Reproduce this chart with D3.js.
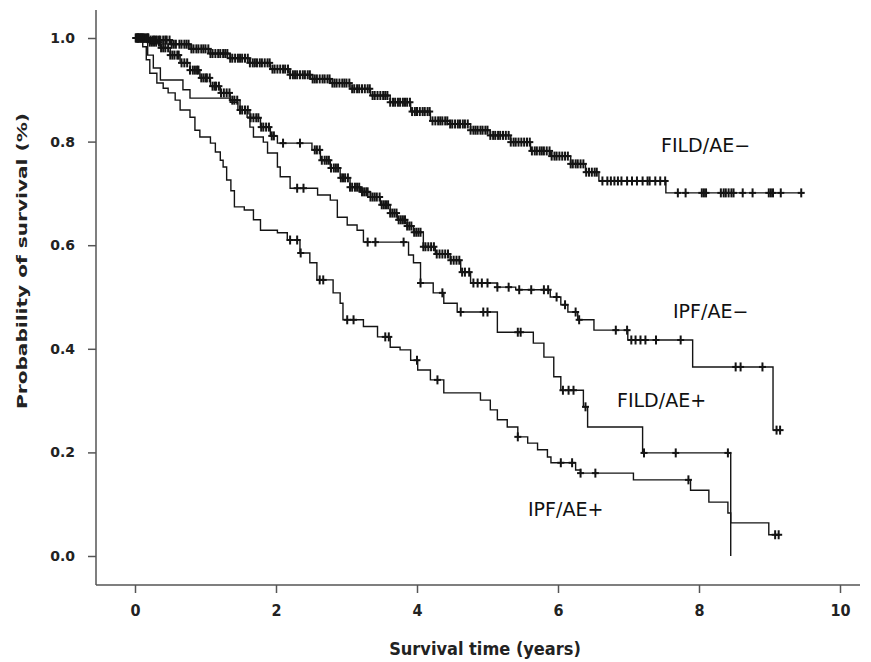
<!DOCTYPE html>
<html>
<head>
<meta charset="utf-8">
<script src="https://cdn.jsdelivr.net/npm/d3@7"></script>
<style>
  body { margin: 0; background: #fff; }
  svg { display: block; }
</style>
</head>
<body>
<script>
// Kaplan-Meier survival curves, four groups
// step times (years) and survival after each step

const fildNegT = [0, 0.21, 0.5, 0.78, 1.07, 1.35, 1.63, 1.92, 2.2, 2.49, 2.77, 3.05, 3.34, 3.62, 3.91, 4.19, 4.47, 4.76, 5.04, 5.33, 5.61, 5.89, 6.18, 6.39, 6.58, 7.53, 9.49];
const fildNegS = [1.0, 0.996, 0.988, 0.979, 0.970, 0.961, 0.952, 0.940, 0.929, 0.921, 0.913, 0.902, 0.889, 0.876, 0.858, 0.840, 0.834, 0.822, 0.812, 0.799, 0.782, 0.772, 0.757, 0.741, 0.724, 0.701, 0.701];
const fildNegCensor = [0.01, 0.02, 0.04, 0.05, 0.07, 0.08, 0.1, 0.12, 0.13, 0.16, 0.18, 0.19, 0.22, 0.25, 0.27, 0.29, 0.31, 0.34, 0.36, 0.4, 0.43, 0.45, 0.49, 0.52, 0.55, 0.58, 0.63, 0.66, 0.7, 0.73, 0.76, 0.8, 0.83, 0.87, 0.9, 0.94, 0.97, 1.0, 1.04, 1.07, 1.1, 1.14, 1.18, 1.21, 1.25, 1.28, 1.31, 1.35, 1.38, 1.42, 1.46, 1.49, 1.52, 1.56, 1.6, 1.63, 1.67, 1.7, 1.73, 1.77, 1.8, 1.84, 1.88, 1.91, 1.95, 1.98, 2.02, 2.06, 2.1, 2.13, 2.17, 2.2, 2.24, 2.27, 2.3, 2.34, 2.38, 2.41, 2.45, 2.48, 2.52, 2.55, 2.58, 2.62, 2.66, 2.69, 2.73, 2.76, 2.8, 2.83, 2.86, 2.9, 2.94, 2.97, 3.0, 3.04, 3.08, 3.11, 3.15, 3.18, 3.22, 3.26, 3.3, 3.33, 3.37, 3.4, 3.44, 3.48, 3.52, 3.55, 3.58, 3.62, 3.66, 3.69, 3.73, 3.76, 3.8, 3.83, 3.86, 3.9, 3.93, 3.97, 4.0, 4.04, 4.08, 4.11, 4.15, 4.18, 4.22, 4.26, 4.3, 4.33, 4.36, 4.4, 4.43, 4.47, 4.5, 4.54, 4.58, 4.61, 4.65, 4.68, 4.72, 4.76, 4.8, 4.83, 4.86, 4.9, 4.93, 4.97, 5.0, 5.04, 5.08, 5.11, 5.15, 5.18, 5.22, 5.26, 5.3, 5.33, 5.37, 5.4, 5.44, 5.48, 5.52, 5.56, 5.6, 5.63, 5.67, 5.7, 5.74, 5.77, 5.8, 5.84, 5.88, 5.91, 5.95, 5.98, 6.02, 6.06, 6.1, 6.14, 6.18, 6.21, 6.25, 6.28, 6.32, 6.36, 6.4, 6.44, 6.48, 6.52, 6.55, 6.63, 6.7, 6.75, 6.8, 6.85, 6.9, 6.98, 7.05, 7.12, 7.2, 7.27, 7.3, 7.38, 7.45, 7.52, 7.7, 7.81, 8.04, 8.07, 8.1, 8.31, 8.35, 8.38, 8.42, 8.46, 8.49, 8.62, 8.76, 8.99, 9.02, 9.05, 9.16, 9.45];

const ipfNegT = [0, 0.21, 0.36, 0.5, 0.64, 0.78, 0.92, 1.07, 1.21, 1.35, 1.49, 1.63, 1.78, 1.92, 2.02, 2.51, 2.63, 2.77, 2.91, 3.05, 3.2, 3.34, 3.48, 3.62, 3.72, 3.86, 3.95, 4.09, 4.26, 4.47, 4.62, 4.76, 5.14, 5.4, 5.89, 6.04, 6.14, 6.28, 6.51, 6.99, 7.91, 9.05, 9.15];
const ipfNegS = [1.0, 0.992, 0.981, 0.967, 0.952, 0.938, 0.923, 0.907, 0.894, 0.880, 0.861, 0.846, 0.828, 0.811, 0.797, 0.784, 0.764, 0.749, 0.730, 0.712, 0.703, 0.693, 0.678, 0.662, 0.649, 0.637, 0.625, 0.597, 0.583, 0.571, 0.548, 0.527, 0.519, 0.514, 0.500, 0.485, 0.471, 0.456, 0.436, 0.417, 0.365, 0.243, 0.243];
const ipfNegCensor = [0.02, 0.04, 0.07, 0.1, 0.12, 0.15, 0.18, 0.21, 0.24, 0.27, 0.3, 0.34, 0.37, 0.4, 0.43, 0.47, 0.5, 0.53, 0.56, 0.6, 0.62, 0.66, 0.7, 0.74, 0.78, 0.82, 0.85, 0.88, 0.9, 0.94, 0.97, 1.0, 1.02, 1.06, 1.1, 1.13, 1.15, 1.19, 1.22, 1.26, 1.3, 1.34, 1.38, 1.41, 1.45, 1.49, 1.52, 1.56, 1.6, 1.64, 1.68, 1.72, 1.75, 1.79, 1.82, 1.86, 1.9, 1.94, 1.97, 2.1, 2.34, 2.55, 2.58, 2.62, 2.65, 2.69, 2.72, 2.75, 2.78, 2.82, 2.85, 2.88, 2.92, 2.95, 2.98, 3.02, 3.05, 3.08, 3.12, 3.15, 3.18, 3.22, 3.25, 3.28, 3.3, 3.34, 3.37, 3.4, 3.43, 3.47, 3.5, 3.53, 3.56, 3.59, 3.62, 3.65, 3.68, 3.71, 3.74, 3.77, 3.8, 3.83, 3.86, 3.89, 3.92, 3.96, 3.99, 4.02, 4.05, 4.09, 4.12, 4.16, 4.2, 4.24, 4.28, 4.32, 4.36, 4.4, 4.44, 4.48, 4.52, 4.56, 4.6, 4.64, 4.68, 4.74, 4.8, 4.86, 4.92, 5.0, 5.14, 5.3, 5.45, 5.62, 5.8, 5.86, 5.98, 6.1, 6.25, 6.3, 6.82, 6.98, 7.04, 7.1, 7.17, 7.24, 7.39, 7.74, 8.52, 8.59, 8.9, 9.1, 9.15];

const fildPosT = [0, 0.11, 0.18, 0.26, 0.36, 0.68, 0.78, 1.35, 1.46, 1.59, 1.63, 1.68, 1.82, 1.88, 2.02, 2.06, 2.2, 2.59, 2.77, 2.87, 3.01, 3.15, 3.24, 3.88, 3.95, 4.05, 4.23, 4.38, 4.57, 5.14, 5.65, 5.8, 5.94, 6.04, 6.36, 6.42, 7.2, 8.45];
const fildPosS = [1.0, 0.992, 0.967, 0.942, 0.919, 0.900, 0.884, 0.876, 0.861, 0.847, 0.828, 0.809, 0.799, 0.778, 0.751, 0.732, 0.710, 0.697, 0.687, 0.654, 0.639, 0.629, 0.606, 0.581, 0.566, 0.527, 0.508, 0.488, 0.471, 0.432, 0.411, 0.384, 0.346, 0.320, 0.288, 0.249, 0.199, 0.0];
const fildPosCensor = [0.05, 0.09, 2.3, 2.39, 3.3, 3.41, 3.81, 4.05, 4.36, 4.62, 4.94, 5.0, 5.43, 5.47, 6.07, 6.15, 6.22, 6.39, 7.22, 7.67, 8.41];

const ipfPosT = [0, 0.11, 0.16, 0.21, 0.31, 0.4, 0.47, 0.57, 0.64, 0.78, 0.85, 0.92, 1.07, 1.14, 1.21, 1.25, 1.3, 1.36, 1.41, 1.55, 1.68, 1.78, 2.02, 2.16, 2.34, 2.48, 2.58, 2.81, 2.91, 2.95, 3.24, 3.44, 3.62, 3.76, 3.91, 4.01, 4.19, 4.38, 4.9, 5.04, 5.14, 5.28, 5.43, 5.57, 5.71, 5.85, 5.9, 6.25, 6.32, 7.07, 7.88, 8.14, 8.41, 8.45, 8.99, 9.15];
const ipfPosS = [1.0, 0.983, 0.958, 0.932, 0.913, 0.903, 0.894, 0.880, 0.861, 0.847, 0.822, 0.809, 0.797, 0.780, 0.764, 0.751, 0.726, 0.705, 0.674, 0.668, 0.649, 0.629, 0.624, 0.610, 0.585, 0.566, 0.533, 0.508, 0.488, 0.456, 0.443, 0.423, 0.403, 0.398, 0.378, 0.359, 0.340, 0.315, 0.301, 0.282, 0.263, 0.249, 0.230, 0.218, 0.205, 0.191, 0.180, 0.166, 0.160, 0.147, 0.127, 0.104, 0.083, 0.064, 0.041, 0.041];
const ipfPosCensor = [0.04, 2.2, 2.3, 2.35, 2.62, 2.67, 3.01, 3.1, 3.55, 3.6, 4.0, 4.29, 5.43, 6.04, 6.2, 6.32, 6.53, 7.85, 9.08, 9.13];

const groupNames = ["FILD/AE\u2212", "IPF/AE\u2212", "FILD/AE+", "IPF/AE+"];
const xTicks = [0, 2, 4, 6, 8, 10];
const yTicks = [0.0, 0.2, 0.4, 0.6, 0.8, 1.0];

const groups = [
  { name: groupNames[0], t: fildNegT, s: fildNegS, censor: fildNegCensor, label: [661, 152] },
  { name: groupNames[1], t: ipfNegT, s: ipfNegS, censor: ipfNegCensor, label: [673, 318] },
  { name: groupNames[2], t: fildPosT, s: fildPosS, censor: fildPosCensor, label: [617, 407] },
  { name: groupNames[3], t: ipfPosT, s: ipfPosS, censor: ipfPosCensor, label: [528, 516] },
];

const width = 871;
const height = 662;

const svg = d3
  .select("body")
  .append("svg")
  .attr("width", width)
  .attr("height", height);

// Scales
const x = d3.scaleLinear().domain([0, 10]).range([135, 840]);
const y = d3.scaleLinear().domain([0, 1]).range([556, 38]);

const axisColor = "#555";
const inkColor = "#141414";

// Axis lines (they run past the tick range)
svg.append("line")
  .attr("x1", 96).attr("x2", 96)
  .attr("y1", 10).attr("y2", 585)
  .attr("stroke", axisColor).attr("stroke-width", 1.5);
svg.append("line")
  .attr("x1", 96).attr("x2", 860)
  .attr("y1", 585).attr("y2", 585)
  .attr("stroke", axisColor).attr("stroke-width", 1.5);

// Y axis
const yAxis = svg
  .append("g")
  .attr("transform", "translate(96,0)")
  .call(d3.axisLeft(y).tickValues(yTicks).tickFormat(d3.format(".1f")).tickSize(8).tickPadding(13));
yAxis.select(".domain").remove();
yAxis.selectAll("line").attr("stroke", axisColor).attr("stroke-width", 1.5);
yAxis.selectAll("text")
  .attr("fill", "#222")
  .style("font-family", "'DejaVu Sans', sans-serif")
  .style("font-weight", "bold")
  .style("font-size", "14px");

// X axis
const xAxis = svg
  .append("g")
  .attr("transform", "translate(0,585)")
  .call(d3.axisBottom(x).tickValues(xTicks).tickFormat(d3.format("d")).tickSize(8).tickPadding(12));
xAxis.select(".domain").remove();
xAxis.selectAll("line").attr("stroke", axisColor).attr("stroke-width", 1.5);
xAxis.selectAll("text")
  .attr("fill", "#222")
  .style("font-family", "'DejaVu Sans Condensed', 'DejaVu Sans', sans-serif")
  .style("font-weight", "bold")
  .style("font-size", "16px");

// Axis titles
svg.append("text")
  .attr("x", 485)
  .attr("y", 655)
  .attr("text-anchor", "middle")
  .attr("fill", "#222")
  .style("font-family", "'DejaVu Sans Condensed', 'DejaVu Sans', sans-serif")
  .style("font-weight", "bold")
  .style("font-size", "18px")
  .text("Survival time (years)");

svg.append("text")
  .attr("transform", "translate(27,261) rotate(-90)")
  .attr("text-anchor", "middle")
  .attr("fill", "#222")
  .attr("textLength", 296)
  .attr("lengthAdjust", "spacingAndGlyphs")
  .style("font-family", "'DejaVu Sans Condensed', 'DejaVu Sans', sans-serif")
  .style("font-weight", "bold")
  .style("font-size", "14px")
  .text("Probability of survival (%)");

// Step line generator
const stepLine = d3
  .line()
  .x((d) => x(d[0]))
  .y((d) => y(d[1]))
  .curve(d3.curveStepAfter);

// survival value at time c (last step at or before c)
function survivalAt(g, c) {
  const i = d3.bisectRight(g.t, c) - 1;
  return g.s[Math.max(0, i)];
}

groups.forEach((g) => {
  const pts = g.t.map((t, i) => [t, g.s[i]]);

  svg.append("path")
    .attr("d", stepLine(pts))
    .attr("fill", "none")
    .attr("stroke", inkColor)
    .attr("stroke-width", 1.4);

  // censor marks
  const marks = svg.append("g")
    .selectAll("g")
    .data(g.censor)
    .enter()
    .append("g")
    .attr("transform", (c) => `translate(${x(c)},${y(survivalAt(g, c))})`);
  marks.append("line")
    .attr("x1", 0).attr("x2", 0)
    .attr("y1", -4.5).attr("y2", 4.5)
    .attr("stroke", inkColor).attr("stroke-width", 2);
  marks.append("line")
    .attr("x1", -3.5).attr("x2", 3.5)
    .attr("y1", 0).attr("y2", 0)
    .attr("stroke", inkColor).attr("stroke-width", 2);

  // group label
  svg.append("text")
    .attr("x", g.label[0])
    .attr("y", g.label[1])
    .attr("fill", "#111")
    .style("font-family", "'DejaVu Sans', sans-serif")
    .style("font-size", "19px")
    .text(g.name);
});
</script>
</body>
</html>
